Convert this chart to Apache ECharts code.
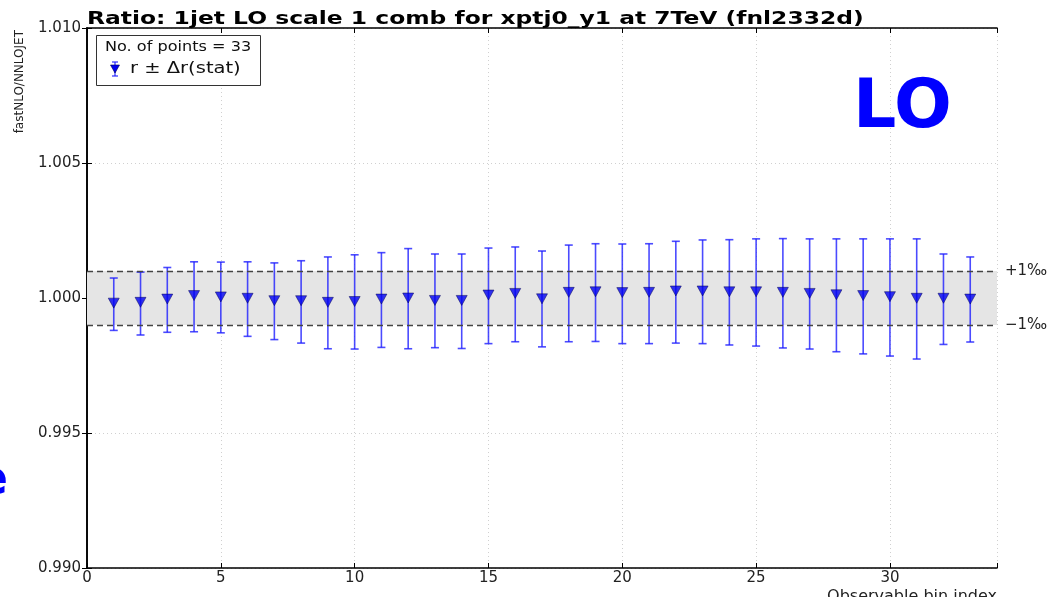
<!DOCTYPE html>
<html>
<head>
<meta charset="utf-8">
<script src="https://cdn.jsdelivr.net/npm/echarts@6/dist/echarts.min.js"></script>
<style>
html,body{margin:0;padding:0;background:#fff;}
#c{width:1050px;height:597px;}
</style>
</head>
<body>
<div id="c"></div>
<script>
// Observable bin indices
const bins = [1,2,3,4,5,6,7,8,9,10,11,12,13,14,15,16,17,18,19,20,21,22,23,24,25,26,27,28,29,30,31,32,33];
// ratio r = fastNLO/NNLOJET
const ratio = [0.99981,0.99984,0.99996,1.00009,1.00004,0.99999,0.99990,0.99990,0.99984,0.99987,
  0.99996,1.00000,0.99991,0.99991,1.00011,1.00017,0.99997,1.00021,1.00023,1.00020,
  1.00021,1.00026,1.00026,1.00023,1.00023,1.00021,1.00017,1.00012,1.00009,1.00005,
  0.99999,0.99999,0.99996];
// upper end of the stat error bar
const errHigh = [1.00074,1.00096,1.00113,1.00134,1.00133,1.00134,1.00130,1.00138,1.00152,1.00160,
  1.00168,1.00183,1.00163,1.00163,1.00185,1.00189,1.00174,1.00196,1.00201,1.00200,
  1.00201,1.00210,1.00215,1.00216,1.00219,1.00220,1.00219,1.00219,1.00219,1.00219,
  1.00219,1.00163,1.00152];
// lower end of the stat error bar
const errLow = [0.99880,0.99863,0.99873,0.99875,0.99871,0.99858,0.99846,0.99833,0.99812,0.99811,
  0.99817,0.99812,0.99816,0.99813,0.99831,0.99838,0.99819,0.99838,0.99839,0.99831,
  0.99831,0.99833,0.99831,0.99826,0.99822,0.99815,0.99811,0.99801,0.99793,0.99785,
  0.99774,0.99828,0.99837];
const yTicks = [0.990, 0.995, 1.000, 1.005, 1.010];
const xTicks = [0, 5, 10, 15, 20, 25, 30];
const bandLow = 0.999, bandHigh = 1.001;

const FONT = 'DejaVu Sans';
const chart = echarts.init(document.getElementById('c'), null, {renderer: 'canvas'});

const axisLineStyle = {color: '#000', width: 1.6};
const tickStyle = {show: true, inside: true, length: 5, lineStyle: {color: '#000', width: 1}};
const gridLine = {show: true, lineStyle: {color: '#d0d0d0', type: [1, 3], width: 1}};
const errColor = 'rgba(30,30,255,0.8)';

const pointData = bins.map((b, i) => [b, ratio[i]]);
const errData = bins.map((b, i) => [b, errLow[i], errHigh[i]]);

chart.setOption({
  animation: false,
  backgroundColor: '#fff',
  grid: {left: 87, right: 53, top: 28, bottom: 29, containLabel: false, outerBoundsMode: 'none'},
  xAxis: [{
    type: 'value', min: 0, max: 34, interval: 5,
    name: 'Observable bin index', nameLocation: 'end',
    nameGap: 0,
    nameTextStyle: {fontFamily: FONT, fontSize: 16, color: '#222', align: 'right', verticalAlign: 'top', padding: [21, 0, 0, 0]},
    axisLine: {show: true, lineStyle: axisLineStyle},
    axisTick: tickStyle,
    splitLine: gridLine,
    axisLabel: {fontFamily: FONT, fontSize: 15, color: '#222', margin: 3,
      formatter: v => (xTicks.indexOf(v) >= 0 ? String(v) : '')}
  }, {
    type: 'value', min: 0, max: 34, interval: 5, position: 'top',
    axisLine: {show: true, lineStyle: axisLineStyle},
    axisTick: tickStyle, splitLine: {show: false}, axisLabel: {show: false}
  }],
  yAxis: [{
    type: 'value', min: 0.990, max: 1.010, interval: 0.005,
    axisLine: {show: true, lineStyle: axisLineStyle},
    axisTick: tickStyle,
    splitLine: gridLine,
    axisLabel: {fontFamily: FONT, fontSize: 15, color: '#222', margin: 6,
      formatter: v => {
        const t = yTicks.find(k => Math.abs(k - v) < 1e-9);
        return t === undefined ? '' : t.toFixed(3);
      }}
  }, {
    type: 'value', min: 0.990, max: 1.010, interval: 0.005, position: 'right',
    axisLine: {show: true, lineStyle: axisLineStyle},
    axisTick: tickStyle, splitLine: {show: false}, axisLabel: {show: false}
  }],
  series: [
    {
      type: 'line', data: [], silent: true,
      markArea: {
        silent: true,
        itemStyle: {color: '#e5e5e5'},
        data: [[{xAxis: 0, yAxis: bandLow}, {xAxis: 34, yAxis: bandHigh}]]
      },
      markLine: {
        silent: true, symbol: 'none', precision: 6,
        lineStyle: {color: '#444', type: [6, 4], width: 1.3},
        label: {show: true, position: 'end', distance: 8, fontFamily: FONT, fontSize: 15, color: '#222'},
        data: [
          {yAxis: bandHigh, label: {formatter: '+1\u2030'}},
          {yAxis: bandLow, label: {formatter: '\u22121\u2030'}}
        ]
      }
    },
    {
      type: 'custom',
      name: 'err',
      data: errData,
      z: 3,
      renderItem: function (params, api) {
        const x = api.value(0);
        const lo = api.coord([x, api.value(1)]);
        const hi = api.coord([x, api.value(2)]);
        const cap = 4;
        const st = {stroke: errColor, lineWidth: 1.6};
        return {
          type: 'group',
          children: [
            {type: 'line', shape: {x1: lo[0], y1: lo[1], x2: hi[0], y2: hi[1]}, style: st},
            {type: 'line', shape: {x1: hi[0] - cap, y1: hi[1], x2: hi[0] + cap, y2: hi[1]}, style: st},
            {type: 'line', shape: {x1: lo[0] - cap, y1: lo[1], x2: lo[0] + cap, y2: lo[1]}, style: st}
          ]
        };
      }
    },
    {
      type: 'scatter',
      data: pointData,
      symbol: 'triangle', symbolRotate: 180, symbolSize: [11, 10],
      itemStyle: {color: '#0000f0', borderColor: '#000050', borderWidth: 0.6},
      z: 4
    }
  ],
  graphic: [
    {
      type: 'text', x: 87, y: 10, scaleX: 1.3, z: 11,
      style: {text: 'Ratio: 1jet LO scale 1 comb for xptj0_y1 at 7TeV (fnl2332d)',
        fontFamily: FONT, fontWeight: 'bold', fontSize: 18, fill: '#000'}
    },
    {
      type: 'text', x: 20, y: 30, rotation: Math.PI / 2, z: 11,
      style: {text: 'fastNLO/NNLOJET', fontFamily: FONT, fontSize: 12, fill: '#222',
        align: 'right', verticalAlign: 'middle'}
    },
    {
      type: 'rect', left: 96, top: 35, shape: {width: 164, height: 50},
      style: {fill: '#fff', stroke: '#333', lineWidth: 1}, z: 10
    },
    {
      type: 'text', x: 105, y: 40, scaleX: 1.15, z: 11,
      style: {text: 'No. of points = 33', fontFamily: FONT, fontSize: 14, fill: '#111'}
    },
    {
      type: 'line', z: 11, shape: {x1: 115, y1: 62, x2: 115, y2: 76},
      style: {stroke: errColor, lineWidth: 1.4}
    },
    {
      type: 'line', z: 11, shape: {x1: 112, y1: 62, x2: 118, y2: 62},
      style: {stroke: errColor, lineWidth: 1.4}
    },
    {
      type: 'line', z: 11, shape: {x1: 112, y1: 76, x2: 118, y2: 76},
      style: {stroke: errColor, lineWidth: 1.4}
    },
    {
      type: 'polygon', z: 12, shape: {points: [[110.5, 65], [119.5, 65], [115, 73]]},
      style: {fill: '#0000f0', stroke: '#000050', lineWidth: 0.6}
    },
    {
      type: 'text', x: 130, y: 62, scaleX: 1.3, z: 11,
      style: {text: 'r \u00b1 \u0394r(stat)', fontFamily: FONT, fontSize: 15, fill: '#111'}
    },
    {
      type: 'text', left: 853, top: 75, z: 11,
      style: {text: 'LO', fontFamily: FONT, fontWeight: 'bold', fontSize: 68, fill: '#0000ff'}
    },
    {
      type: 'text', x: 8, y: 458, z: 11,
      style: {text: 'e', fontFamily: FONT, fontWeight: 'bold', fontSize: 48, fill: '#0000ff', align: 'right'}
    }
  ]
});
</script>
</body>
</html>
